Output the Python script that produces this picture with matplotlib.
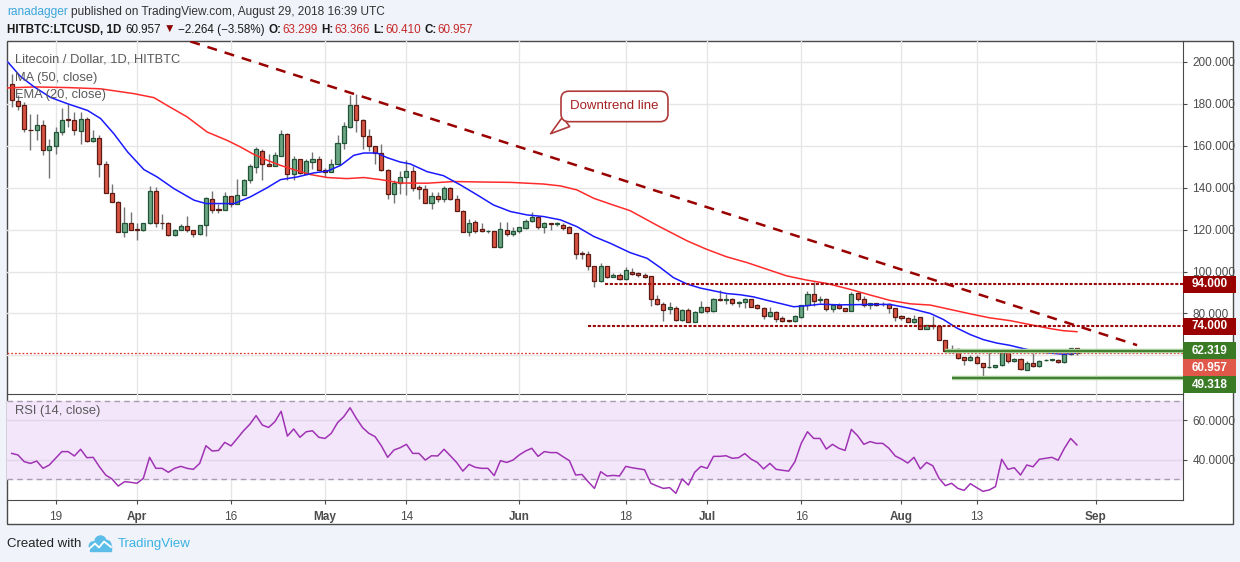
import matplotlib
matplotlib.use('Agg')
import matplotlib.pyplot as plt
import numpy as np
import pandas as pd
from matplotlib.patches import Rectangle, Ellipse

plt.rcParams['font.family'] = ['Liberation Sans', 'DejaVu Sans']

# ---- data (LTC/USD daily, HitBTC) ----
start_date = '2018-03-12'
opens = [189.5, 181.3, 179.2, 167.5, 167.3, 169.7, 157.8, 159.7, 166.3, 172.6,
         172.4, 167.0, 172.9, 162.2, 163.8, 151.4, 137.5, 133.2, 118.9, 122.9,
         120.2, 119.7, 122.9, 138.4, 123.3, 122.9, 117.3, 120.0, 121.6, 119.7,
         118.1, 122.1, 134.8, 129.6, 129.5, 135.9, 132.4, 136.7, 143.5, 149.8,
         157.6, 151.4, 150.5, 155.2, 165.7, 146.7, 153.8, 146.7, 152.2, 153.8,
         148.6, 147.5, 151.4, 161.4, 168.9, 179.2, 172.1, 164.4, 159.7, 156.7,
         148.3, 137.1, 142.4, 145.1, 147.9, 140.2, 139.2, 132.9, 136.0, 134.8,
         139.7, 134.6, 128.7, 118.6, 123.6, 120.2, 119.2, 119.3, 111.6, 119.8,
         117.8, 119.3, 120.8, 124.0, 126.0, 121.1, 123.2, 122.6, 122.3, 121.0,
         118.5, 108.5, 108.4, 102.4, 95.4, 102.4, 97.6, 98.4, 96.6, 99.8,
         99.2, 98.4, 97.9, 86.8, 84.4, 82.1, 82.5, 77.0, 81.7, 75.7,
         80.6, 83.2, 81.0, 86.6, 86.3, 86.8, 85.1, 85.6, 86.8, 84.1,
         82.5, 78.7, 80.8, 77.8, 76.8, 76.2, 78.4, 84.1, 89.2, 86.3,
         86.8, 82.1, 83.8, 82.4, 81.4, 89.6, 86.7, 83.8, 84.8, 84.5,
         84.3, 82.4, 78.6, 77.6, 76.0, 78.1, 72.8, 74.7, 73.8, 67.5,
         62.2, 63.2, 59.4, 57.9, 59.4, 56.5, 54.3, 54.4, 55.5, 61.9,
         57.1, 58.1, 53.1, 56.5, 55.0, 57.6, 57.8, 57.9, 56.8, 60.6,
         63.299]
highs = [194.0, 184.0, 180.8, 175.2, 175.2, 172.0, 163.3, 168.9, 178.1, 180.0,
         176.0, 176.0, 173.7, 167.3, 164.9, 152.7, 141.9, 133.5, 130.8, 128.4,
         123.0, 123.3, 140.6, 140.3, 127.3, 123.7, 120.2, 122.5, 126.3, 119.9,
         122.2, 135.3, 138.4, 132.4, 137.9, 135.9, 144.3, 144.3, 151.4, 159.4,
         158.6, 155.9, 157.0, 167.3, 166.0, 154.9, 153.8, 153.8, 157.0, 154.9,
         149.5, 153.8, 165.2, 171.3, 184.0, 184.8, 172.9, 168.1, 159.7, 160.6,
         149.0, 143.5, 147.9, 153.0, 150.2, 141.4, 141.4, 138.1, 137.9, 140.8,
         140.5, 136.5, 129.4, 124.9, 124.6, 123.0, 119.7, 119.3, 123.8, 123.8,
         121.1, 121.4, 125.1, 128.4, 126.5, 123.7, 123.3, 123.7, 123.0, 121.6,
         118.5, 109.7, 109.7, 102.4, 104.1, 102.4, 99.2, 99.5, 102.1, 101.6,
         100.0, 99.2, 97.9, 88.9, 85.6, 85.6, 83.5, 82.1, 82.4, 81.0,
         86.0, 83.2, 87.3, 91.1, 89.5, 87.3, 86.0, 87.3, 86.8, 84.4,
         83.2, 82.9, 81.3, 78.7, 77.1, 79.4, 84.1, 90.8, 94.8, 88.4,
         87.3, 84.6, 85.1, 82.7, 90.4, 90.4, 88.3, 85.1, 84.8, 85.4,
         84.8, 82.7, 79.2, 78.2, 79.5, 78.1, 74.7, 78.7, 74.2, 67.5,
         65.1, 63.5, 59.4, 60.3, 60.3, 56.5, 61.9, 55.5, 62.2, 62.2,
         58.7, 58.7, 57.1, 61.0, 57.9, 58.4, 58.4, 58.2, 61.1, 63.5,
         63.366]
lows = [178.4, 176.8, 166.5, 157.8, 162.5, 155.4, 144.8, 156.2, 164.9, 168.9,
        164.9, 160.6, 161.7, 161.9, 145.1, 137.3, 133.0, 118.7, 116.5, 119.8,
        115.2, 119.5, 122.5, 121.3, 120.5, 117.0, 117.0, 119.7, 119.0, 116.5,
        117.3, 117.0, 128.0, 128.0, 129.2, 130.8, 132.4, 136.7, 142.2, 147.0,
        143.8, 150.5, 150.2, 154.9, 143.8, 143.8, 146.7, 146.3, 149.0, 148.3,
        145.1, 147.3, 151.4, 158.6, 168.6, 166.5, 158.6, 157.5, 151.4, 147.9,
        134.8, 132.7, 136.8, 136.3, 138.4, 134.4, 132.5, 129.7, 133.3, 133.3,
        134.1, 128.7, 118.6, 116.7, 118.2, 118.7, 118.2, 111.6, 111.3, 116.7,
        117.0, 118.5, 120.3, 123.5, 120.2, 118.5, 119.7, 121.6, 119.7, 118.5,
        105.8, 105.8, 100.6, 92.5, 95.1, 96.7, 97.4, 96.1, 96.1, 98.4,
        97.5, 97.0, 83.7, 84.1, 76.5, 79.7, 76.5, 76.5, 75.7, 75.7,
        80.2, 80.0, 80.8, 86.0, 84.4, 84.1, 83.2, 82.4, 83.3, 82.0,
        77.3, 78.4, 75.7, 75.7, 76.0, 75.7, 78.0, 81.7, 83.7, 85.2,
        81.0, 80.5, 82.2, 81.1, 81.1, 85.9, 83.2, 81.9, 83.5, 83.4,
        80.3, 76.6, 77.1, 75.8, 75.5, 72.8, 72.8, 72.8, 67.4, 61.1,
        61.1, 58.4, 55.5, 57.4, 55.8, 49.4, 53.9, 53.9, 55.0, 56.3,
        56.8, 53.1, 53.0, 54.7, 54.7, 57.4, 57.4, 56.5, 56.6, 60.3,
        60.410]
closes = [181.6, 178.7, 168.1, 167.3, 169.7, 157.8, 159.7, 166.3, 172.4, 172.3,
          167.3, 172.9, 162.2, 163.8, 151.4, 137.5, 133.2, 118.9, 122.9, 120.0,
          119.7, 122.9, 138.4, 122.9, 123.0, 117.3, 120.0, 121.6, 119.7, 118.1,
          122.1, 135.2, 129.5, 129.4, 135.9, 132.4, 136.7, 143.5, 150.2, 158.3,
          151.4, 150.5, 155.4, 165.7, 146.7, 153.8, 147.1, 152.5, 153.8, 148.6,
          147.5, 151.4, 161.4, 169.2, 179.2, 172.1, 164.6, 159.7, 156.7, 148.3,
          137.1, 142.4, 145.1, 147.9, 139.8, 139.2, 132.9, 136.0, 134.8, 139.7,
          134.6, 128.7, 118.6, 123.0, 119.5, 119.1, 119.3, 111.6, 120.3, 117.8,
          119.3, 121.1, 124.0, 126.0, 121.1, 123.2, 122.6, 122.7, 120.6, 118.5,
          108.3, 108.4, 102.4, 95.4, 102.4, 97.6, 98.4, 96.6, 100.6, 99.0,
          98.3, 97.3, 86.8, 84.4, 81.7, 82.9, 76.8, 81.7, 75.7, 80.6,
          83.2, 81.3, 86.8, 86.5, 86.8, 84.9, 85.6, 86.8, 83.3, 82.5,
          78.7, 80.8, 77.3, 76.5, 76.3, 78.7, 84.1, 89.2, 86.0, 86.8,
          82.1, 84.1, 82.4, 81.4, 89.1, 86.7, 83.8, 84.8, 83.8, 84.4,
          82.4, 78.4, 77.6, 76.0, 77.4, 72.8, 74.7, 73.8, 67.4, 61.9,
          62.5, 58.7, 57.9, 59.4, 56.3, 54.4, 54.5, 55.5, 61.9, 57.1,
          58.2, 53.4, 56.5, 55.0, 57.4, 57.9, 58.1, 56.8, 60.6, 63.299,
          60.957]

rsi = [43.2, 42.4, 39.0, 38.1, 39.3, 35.6, 37.3, 40.7, 44.1, 44.1,
       41.9, 45.3, 41.0, 41.2, 36.4, 32.2, 30.2, 26.6, 28.8, 28.5,
       28.0, 30.5, 41.2, 35.6, 35.6, 33.6, 35.6, 36.6, 35.6, 35.1,
       38.1, 47.1, 44.4, 44.7, 48.8, 47.0, 50.8, 54.7, 58.0, 62.4,
       57.6, 56.4, 59.3, 64.6, 52.0, 55.6, 51.4, 54.2, 54.7, 51.4,
       50.8, 53.4, 58.8, 61.9, 66.4, 61.0, 56.3, 53.4, 51.7, 47.0,
       41.2, 44.9, 46.1, 47.8, 43.2, 43.2, 39.8, 42.0, 41.9, 45.3,
       42.0, 38.6, 34.2, 37.6, 36.1, 35.6, 35.6, 31.9, 39.5, 38.6,
       39.8, 42.4, 44.4, 45.8, 41.7, 44.1, 43.6, 43.6, 41.5, 39.5,
       32.2, 32.5, 28.8, 25.4, 33.9, 31.7, 32.0, 31.7, 36.6, 35.9,
       35.4, 34.9, 28.0, 26.6, 25.4, 25.8, 22.9, 30.2, 27.1, 33.6,
       36.6, 35.6, 41.7, 41.7, 42.0, 40.7, 41.0, 43.1, 40.3, 38.6,
       35.3, 38.1, 35.1, 34.6, 34.2, 39.0, 48.3, 54.2, 50.8, 50.8,
       45.4, 47.8, 45.8, 44.7, 55.4, 52.2, 47.8, 49.2, 48.3, 48.3,
       45.8, 41.9, 40.3, 38.3, 41.2, 35.3, 38.6, 36.9, 30.5, 26.8,
       28.0, 25.4, 24.4, 27.8, 25.8, 23.9, 24.6, 26.3, 40.2, 35.1,
       35.9, 32.2, 37.3, 36.4, 40.2, 40.7, 41.2, 39.7, 45.8, 50.8,
       47.5]

# indicator lines, sampled from the chart (day offset from start_date, value)
ma50_day = [-1, 3.6, 8.9, 14.2, 19.5, 22.7, 24.8, 28, 31.2, 34.4, 36.5, 38.6, 40.8,
            42.9, 45, 47.7, 50.4, 53.5, 56.2, 58.9, 62, 66.3, 70.5, 74.3, 79.6, 84.9,
            87.6, 90.2, 92.9, 95.5, 98.7, 103, 107.8, 110.9, 114.1, 117.3, 120.5,
            123.7, 126.9, 130.1, 133.8, 137, 140.2, 143.4, 146.6, 149.8, 153, 156.1,
            159.3, 162.5, 165.7, 167.8, 170]
ma50_val = [187.5, 188, 187.7, 187.1, 184.8, 182.9, 179.2, 173.7, 166.5, 162.5, 159.4,
            155.9, 153, 150.6, 148.6, 146.2, 144.8, 144.3, 144.8, 143.8, 142.2, 142.1,
            142.9, 142.7, 142.5, 141.7, 140.8, 138.9, 134.9, 132.2, 129, 122, 114.6,
            110.6, 107, 104.3, 101.1, 97.9, 95.9, 94.3, 91.5, 88.8, 86.2, 84.6, 84,
            81.9, 79.8, 77.9, 76.6, 74.7, 72.8, 71.8, 71.3]
ema20_day = [-0.6, 1.4, 3.6, 6.2, 8.9, 12.1, 14.2, 16.3, 18.5, 21.1, 23.2, 25.9, 29.1,
             31, 35.5, 38.1, 40.8, 42.9, 45.6, 48.2, 50.4, 52.5, 54.6, 56.2, 58.3, 59.9,
             62, 63.6, 66.3, 68.9, 71.6, 74.3, 76.9, 79.6, 82.2, 84.9, 87.6, 90.2, 92.9,
             95.5, 98.7, 101.4, 103.5, 105.6, 107.8, 109.9, 112, 114.1, 116.3, 118.4,
             120.5, 122.6, 124.8, 126.9, 129, 132.2, 137, 140.2, 143.4, 146.6, 148.7,
             150.8, 153, 155.1, 157.2, 159.3, 161.5, 163.6, 165.7, 167.8, 170]
ema20_val = [199.8, 193, 188, 183, 180, 176.8, 172.9, 165.7, 157, 148.6, 145.1, 139.5,
             134, 132.4, 132.4, 135.6, 140, 143.8, 145.1, 147, 147.9, 150.6, 155.4,
             156.5, 156.5, 154.3, 152.2, 151.3, 147.6, 145.7, 141.3, 136.5, 131.7,
             128.6, 127, 126.2, 124.6, 121.4, 116.7, 113.5, 109, 106.3, 101.9, 97.1,
             94, 92.1, 90.8, 89.5, 88.9, 87.9, 86.3, 84.8, 83.2, 83.7, 84.4, 84.1,
             84.3, 84.3, 82.4, 80, 77.1, 73.1, 69.9, 67.5, 65.9, 64.8, 63.2, 61.9,
             61.1, 60.6, 61.1]

# drawings
trend_day = [28.5, 179.6]
trend_val = [209.7, 64.9]
resistance = [94.0, 74.0]
resistance_from = [94.7, 91.9]
support = [62.319, 49.318]
support_from = [149, 150]
last_price = 60.957

tick_dates = ['2018-03-19', '2018-04-01', '2018-04-16', '2018-05-01', '2018-05-14',
              '2018-06-01', '2018-06-18', '2018-07-01', '2018-07-16', '2018-08-01',
              '2018-08-13', '2018-09-01']
tick_labels = ['19', 'Apr', '16', 'May', '14', 'Jun', '18', 'Jul', '16', 'Aug', '13', 'Sep']
price_grid = [60, 80, 100, 120, 140, 160, 180, 200]
price_ticks = [80, 100, 120, 140, 160, 180, 200]   # 60.000 sits under the price boxes

# ---- figure ----
W, H = 1240, 562
fig = plt.figure(figsize=(W / 100, H / 100), dpi=100, facecolor='#f0f3fa')


def fx(px):
    return px / W


def fy(py):
    return 1 - py / H


fig.patches.append(Rectangle((fx(6.5), fy(524)), fx(1233) - fx(6.5), fy(40.5) - fy(524),
                             transform=fig.transFigure, facecolor='white',
                             edgecolor='#4a4a4a', lw=1, zorder=-1))

ax = fig.add_axes([fx(7), fy(394), fx(1182.5) - fx(7), fy(41) - fy(394)])
axr = fig.add_axes([fx(7), fy(500), fx(1182.5) - fx(7), fy(394) - fy(500)], sharex=ax)

x = np.arange(len(closes))
o, h, l, c = map(np.array, (opens, highs, lows, closes))
t0 = pd.Timestamp(start_date)
tick_pos = [(pd.Timestamp(d) - t0).days for d in tick_dates]

for a in (ax, axr):
    a.set_facecolor('none')
    for s in ('left', 'top'):
        a.spines[s].set_visible(False)
    for s in ('right', 'bottom'):
        a.spines[s].set_color('#4a4a4a')
    for tp in tick_pos:
        a.axvline(tp, color='#e6e6e6', lw=1, zorder=0)
    a.yaxis.tick_right()
    a.tick_params(axis='y', colors='#4a4a4a', labelcolor='#4c4c4c', labelsize=8.5,
                  length=3, pad=4)

ax.set_xlim(-0.75, 186.85)
ax.set_ylim(41.6, 209.9)
axr.set_ylim(19.5, 73.4)

for pt in price_grid:
    ax.axhline(pt, color='#e6e6e6', lw=1, zorder=0)
ax.set_yticks(price_ticks)
ax.set_yticklabels(['%.3f' % v for v in price_ticks])
ax.tick_params(axis='x', length=0, labelbottom=False)

# candles
up = c >= o
body_lo = np.minimum(o, c)
body_h = np.maximum(np.abs(c - o), 0.3)
ax.vlines(x, l, h, color='#737375', lw=1, zorder=2)
ax.bar(x, body_h, bottom=body_lo, width=0.65,
       color=np.where(up, '#6ba583', '#d75442'),
       edgecolor=np.where(up, '#225437', '#5b1a13'), lw=0.9, zorder=3)

ax.plot(ma50_day, ma50_val, color='#ff2b2b', lw=1.1, zorder=4)
ax.plot(ema20_day, ema20_val, color='#1a1aff', lw=1.1, zorder=4)

ax.plot(trend_day, trend_val, color='#990000', lw=1.8, ls=(0, (4, 3.2)), zorder=5)
xr = ax.get_xlim()[1]
for lv, fr in zip(resistance, resistance_from):
    ax.plot([fr, xr], [lv, lv], color='#9b0a0a', lw=1.5, ls=(0, (1.5, 0.8)), zorder=5)
for lv, fr in zip(support, support_from):
    ax.plot([fr, xr], [lv, lv], color='#a9cc9c', lw=3.2, zorder=5, solid_capstyle='butt')
    ax.plot([fr, xr], [lv, lv], color='#3f7f2f', lw=1.4, zorder=5, solid_capstyle='butt')
ax.axhline(last_price, color='#e0392b', lw=0.9, ls=(0, (1.5, 1.5)), zorder=4)

ax.annotate('Downtrend line', xy=(86.0, 165.7), xytext=(96.2, 178.7),
            ha='center', va='center', fontsize=9.5, color='#a52121',
            bbox=dict(boxstyle='round,pad=0.7,rounding_size=0.6', fc='white',
                      ec='#b03a3a', lw=1.2),
            arrowprops=dict(arrowstyle='wedge,tail_width=0.9', fc='white',
                            ec='#b03a3a', lw=1.2, relpos=(0.1, 0.05),
                            shrinkA=0, shrinkB=0),
            zorder=6)

# price boxes on the right scale
fig.canvas.draw()
box_items = [(resistance[0], '#990000'), (resistance[1], '#990000'),
             (support[0], '#3a7a25'), (last_price, '#e0584a'), (support[1], '#3a7a25')]
box_h = 17
prev = -100
for val, col in box_items:
    ypx = H - ax.transData.transform((0, val))[1]
    ypx = max(ypx, prev + box_h)
    prev = ypx
    fig.patches.append(Rectangle((fx(1183), fy(ypx + box_h / 2)), fx(1236) - fx(1183),
                                 box_h / H, transform=fig.transFigure, facecolor=col,
                                 edgecolor='none', zorder=5))
    fig.text(fx(1209.5), fy(ypx), '%.3f' % val, color='white', fontsize=8.5,
             fontweight='bold', ha='center', va='center', zorder=6)

# RSI panel
axr.axhspan(30, 70, color='#f3e6fb', zorder=0)
for lv in (40, 60):
    axr.axhline(lv, color='#e2d6ea', lw=1, zorder=0.5)
for lv in (30, 70):
    axr.axhline(lv, color='#aa9cb0', lw=1, ls=(0, (4, 3)), zorder=1)
axr.plot(x, rsi, color='#a033b4', lw=1.1, zorder=3)
axr.set_yticks([40, 60])
axr.set_yticklabels(['40.0000', '60.0000'])
axr.set_xticks(tick_pos)
axr.set_xticklabels(tick_labels)
axr.tick_params(axis='x', colors='#4a4a4a', labelcolor='#4c4c4c', labelsize=8.5,
                length=3, pad=5)
for lab in axr.get_xticklabels():
    if lab.get_text().isalpha():
        lab.set_fontweight('bold')

# legend texts
for ypx, s in [(60, 'Litecoin / Dollar, 1D, HITBTC'), (77.5, 'MA (50, close)'),
               (95, 'EMA (20, close)'), (411, 'RSI (14, close)')]:
    fig.text(fx(15), fy(ypx), s, color='#5a5a5a', fontsize=9.3, va='center')

# header
renderer = fig.canvas.get_renderer()


def text_run(x_px, y_px, pieces, size):
    for s, col, wt, gap in pieces:
        t = fig.text(fx(x_px), fy(y_px), s, color=col, fontsize=size, fontweight=wt,
                     va='center', ha='left')
        x_px += t.get_window_extent(renderer=renderer).width + gap


red = '#c62828'
text_run(7, 12, [('ranadagger', '#3ba6dc', 'normal', 3),
                 ('published on TradingView.com, August 29, 2018 16:39 UTC', '#333333', 'normal', 0)], 8.6)
text_run(7, 30, [('HITBTC:LTCUSD, 1D', '#1a1a1a', 'bold', 4),
                 ('60.957', '#1a1a1a', 'normal', 3),
                 ('\u25bc', '#8b0000', 'normal', 3),
                 ('\u22122.264 (\u22123.58%)', '#1a1a1a', 'normal', 4),
                 ('O:', '#1a1a1a', 'bold', 0.5), ('63.299', red, 'normal', 4),
                 ('H:', '#1a1a1a', 'bold', 0.5), ('63.366', red, 'normal', 4),
                 ('L:', '#1a1a1a', 'bold', 0.5), ('60.410', red, 'normal', 4),
                 ('C:', '#1a1a1a', 'bold', 0.5), ('60.957', red, 'normal', 0)], 8.4)

# footer
fig.text(fx(7), fy(544), 'Created with', color='#222222', fontsize=9.5, va='center')
for cx, cy, r in [(93.5, 546, 4.2), (100.5, 541.5, 5.5), (106.5, 545, 4.5)]:
    fig.patches.append(Ellipse((fx(cx), fy(cy)), 2 * r / W, 2 * r / H,
                               transform=fig.transFigure, color='#5bbde8', zorder=2))
fig.patches.append(Rectangle((fx(89.5), fy(550.5)), fx(111) - fx(89.5), 5 / H,
                             transform=fig.transFigure, color='#5bbde8', zorder=2))
fig.lines.append(plt.Line2D([fx(v) for v in (89, 95, 99, 104, 111)],
                            [fy(v) for v in (549, 543.5, 547.5, 541.5, 547)],
                            transform=fig.transFigure, color='white', lw=1.3, zorder=3))
fig.text(fx(118), fy(544), 'TradingView', color='#3bb3e4', fontsize=9.5, va='center')

fig.savefig('out.png', dpi=100, facecolor=fig.get_facecolor())
